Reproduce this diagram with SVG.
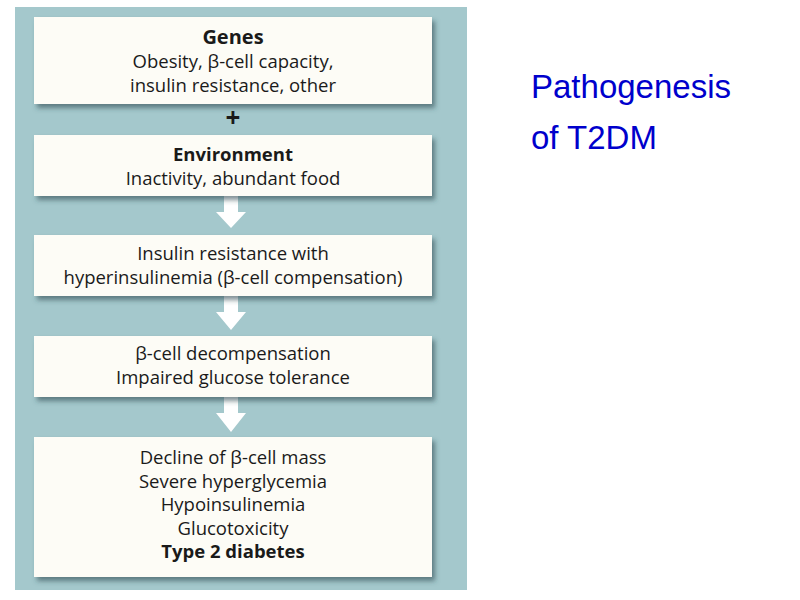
<svg xmlns="http://www.w3.org/2000/svg" width="800" height="600" viewBox="0 0 800 600">
<defs>
<filter id="sh" x="-5%" y="-10%" width="115%" height="130%"><feDropShadow dx="3" dy="4" stdDeviation="2.5" flood-color="#2c4a50" flood-opacity="0.6"/></filter>
<style>
.box{fill:#fdfcf6;filter:url(#sh)}
.t{font-family:"Open Sans","Liberation Sans",sans-serif;font-size:18.5px;fill:#1a1a1a;text-anchor:middle}
.b{font-weight:bold}
.arr{fill:#ffffff}
.title{font-family:"Liberation Sans",Arial,sans-serif;font-size:33px;fill:#0000cc}
</style>
</defs>
<rect width="800" height="600" fill="#ffffff"/>
<rect x="15" y="7" width="452" height="583" fill="#a4c8cc"/>
<g id="connectors">
<text class="t b" x="233" y="127" style="font-size:26px">+</text>
<polygon class="arr" points="224,196 238,196 238,212 246,212 231,228 216,212 224,212"/>
<polygon class="arr" points="224,296 238,296 238,312 246,312 231,330 216,312 224,312"/>
<polygon class="arr" points="224,397 238,397 238,413 246,413 231,432 216,413 224,413"/>
</g>
<g id="genes">
<rect class="box" x="34" y="17" width="398" height="87"/>
<text class="t b" x="233" y="44" style="font-size:20px">Genes</text>
<text class="t" x="233" y="68">Obesity, β-cell capacity,</text>
<text class="t" x="233" y="92">insulin resistance, other</text>
</g>
<g id="environment">
<rect class="box" x="34" y="135" width="398" height="61"/>
<text class="t b" x="233" y="161">Environment</text>
<text class="t" x="233" y="185">Inactivity, abundant food</text>
</g>
<g id="insulin">
<rect class="box" x="34" y="235" width="398" height="61"/>
<text class="t" x="233" y="260">Insulin resistance with</text>
<text class="t" x="233" y="284">hyperinsulinemia (β-cell compensation)</text>
</g>
<g id="decomp">
<rect class="box" x="34" y="336" width="398" height="61"/>
<text class="t" x="233" y="360">β-cell decompensation</text>
<text class="t" x="233" y="384">Impaired glucose tolerance</text>
</g>
<g id="diabetes">
<rect class="box" x="34" y="437" width="398" height="140"/>
<text class="t" x="233" y="464">Decline of β-cell mass</text>
<text class="t" x="233" y="488">Severe hyperglycemia</text>
<text class="t" x="233" y="511">Hypoinsulinemia</text>
<text class="t" x="233" y="535">Glucotoxicity</text>
<text class="t b" x="233" y="558">Type 2 diabetes</text>
</g>
<g id="title">
<text class="title" x="531" y="98">Pathogenesis</text>
<text class="title" x="531" y="149">of T2DM</text>
</g>
</svg>
